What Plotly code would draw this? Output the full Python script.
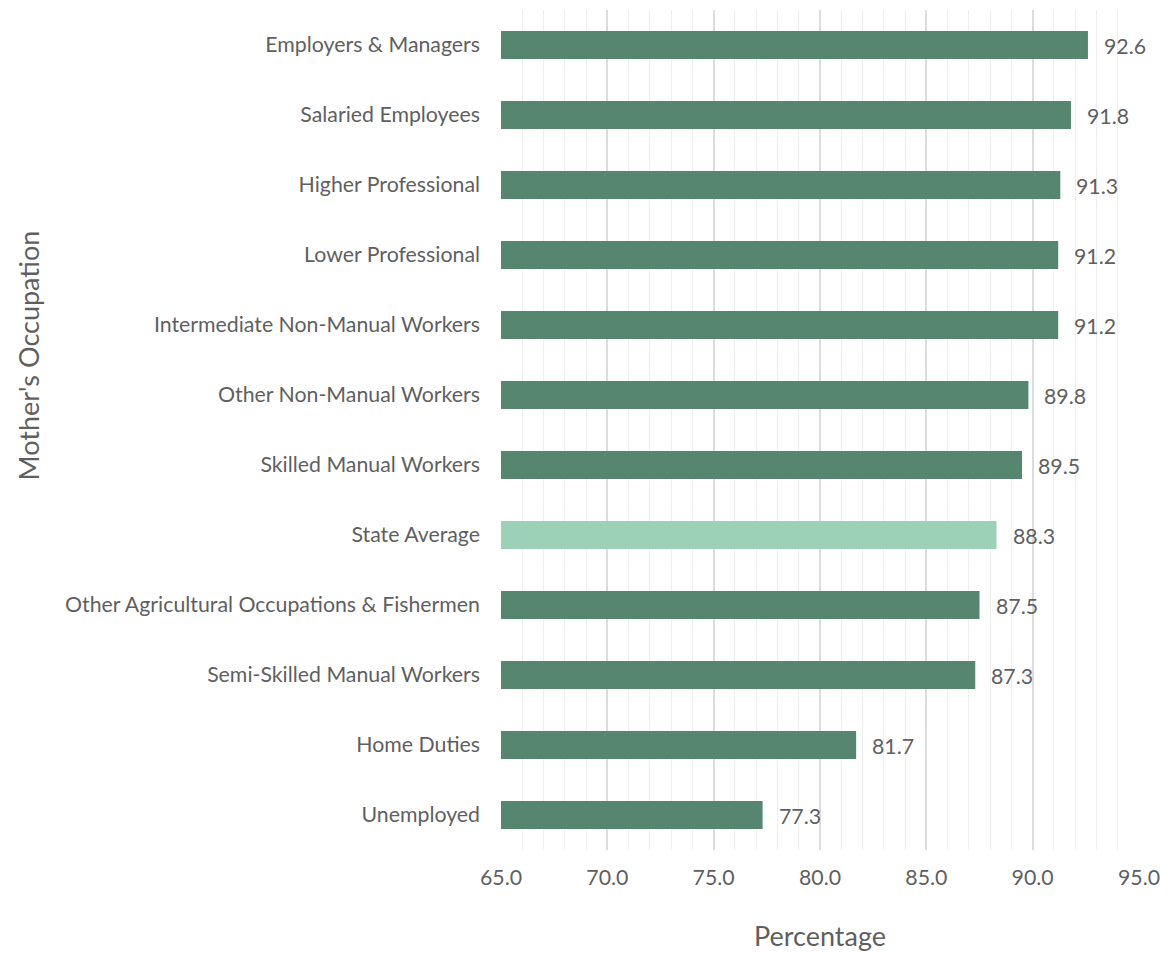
import plotly.graph_objects as go

occupations = [
    "Employers & Managers",
    "Salaried Employees",
    "Higher Professional",
    "Lower Professional",
    "Intermediate Non-Manual Workers",
    "Other Non-Manual Workers",
    "Skilled Manual Workers",
    "State Average",
    "Other Agricultural Occupations & Fishermen",
    "Semi-Skilled Manual Workers",
    "Home Duties",
    "Unemployed",
]
percentages = [92.6, 91.8, 91.3, 91.2, 91.2, 89.8, 89.5, 88.3, 87.5, 87.3, 81.7, 77.3]

DARK = "#568570"
LIGHT = "#9dd1b7"
TEXT = "#5f5f5f"
FONT = "Lato"
LABEL_SIZE = 21.3
TITLE_SIZE = 27

colors = [LIGHT if o == "State Average" else DARK for o in occupations]

fig = go.Figure(
    go.Bar(
        x=[p - 65 for p in percentages],
        base=65,
        y=occupations,
        orientation="h",
        width=0.4,
        marker=dict(color=colors, line=dict(width=0)),
        hoverinfo="skip",
    )
)

# value labels just past the end of each bar
for occ, val in zip(occupations, percentages):
    fig.add_annotation(
        x=val, y=occ, text=f"{val:.1f}", showarrow=False,
        xanchor="left", xshift=14, yshift=-1,
        font=dict(family=FONT, size=LABEL_SIZE, color=TEXT),
    )

# axis titles
fig.add_annotation(
    xref="paper", yref="paper", x=0.5, y=-0.102, text="Percentage",
    showarrow=False, xanchor="center", yanchor="middle",
    font=dict(family=FONT, size=TITLE_SIZE, color=TEXT),
)
fig.add_annotation(
    xref="paper", yref="paper", x=-0.741, y=0.589, text="Mother's Occupation",
    showarrow=False, xanchor="center", yanchor="middle", textangle=-90,
    font=dict(family=FONT, size=TITLE_SIZE, color=TEXT),
)

fig.update_layout(
    width=1170, height=953,
    margin=dict(l=501, r=22, t=10, b=103),
    paper_bgcolor="white", plot_bgcolor="white",
    showlegend=False,
    font=dict(family=FONT, size=LABEL_SIZE, color=TEXT),
    bargap=0.6,
)
fig.update_xaxes(
    range=[65, 95], dtick=5, tick0=65, tickformat=".1f",
    showgrid=True, gridcolor="#dcdcdc", gridwidth=2,
    minor=dict(dtick=1, showgrid=True, gridcolor="#eeeeee", gridwidth=1),
    zeroline=False, showline=False, ticks="",
    ticklabelstandoff=13,
    tickfont=dict(family=FONT, size=LABEL_SIZE, color=TEXT),
)
fig.update_yaxes(
    categoryorder="array", categoryarray=occupations[::-1],
    range=[-0.5, len(occupations) - 0.5],
    showgrid=False, zeroline=False, showline=False, ticks="",
    ticklabelstandoff=20,
    tickfont=dict(family=FONT, size=LABEL_SIZE, color=TEXT),
)

fig.write_html("out.html")
